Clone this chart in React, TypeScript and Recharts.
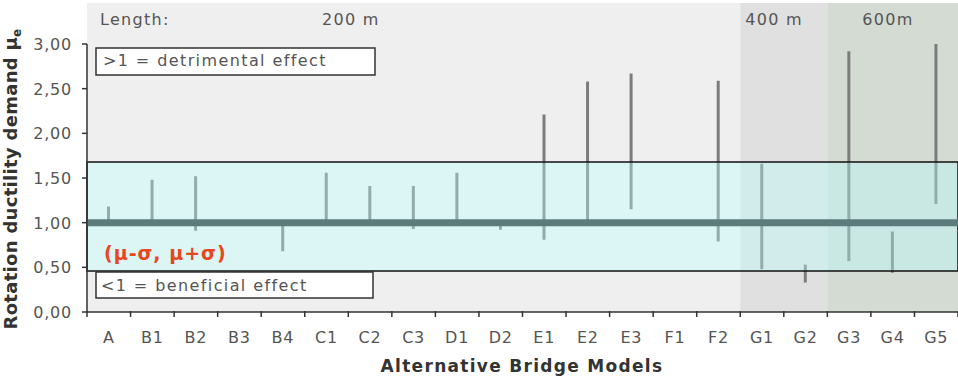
import { Bar, BarChart, ReferenceArea, ReferenceLine, XAxis, YAxis } from 'recharts'

const FONT = '"DejaVu Sans", Verdana, sans-serif'

// bridge models on the x axis
const models = ['A', 'B1', 'B2', 'B3', 'B4', 'C1', 'C2', 'C3', 'D1', 'D2', 'E1', 'E2', 'E3', 'F1', 'F2', 'G1', 'G2', 'G3', 'G4', 'G5']

// spread of the rotation ductility demand per model (null = no spread drawn)
const demandLow = [1.0, 1.0, 0.91, null, 0.68, 1.0, 1.0, 0.93, 1.0, 0.92, 0.81, 1.0, 1.15, null, 0.79, 0.48, 0.33, 0.57, 0.44, 1.21]
const demandHigh = [1.18, 1.48, 1.52, null, 1.0, 1.56, 1.41, 1.41, 1.56, 1.0, 2.21, 2.58, 2.67, null, 2.59, 1.66, 0.53, 2.92, 0.9, 3.0]

const yTicks = [0, 0.5, 1, 1.5, 2, 2.5, 3]

// (mu - sigma, mu + sigma) band and the neutral reference value
const bandLow = 0.46
const bandHigh = 1.68
const neutral = 1

// bridge length groups
const lengthLabels = ['200 m', '400 m', '600m']
const lengthFrom = ['A', 'G1', 'G3']
const lengthTo = ['F2', 'G2', 'G5']
const regionTop = 3.46

const regionFills = ['#efefef', '#e0e0e0', '#d3dbd3']
const regionLabelDx = [235, 5, 35]

const data = models.map((model, i) => ({
  model,
  range: demandLow[i] == null ? null : [demandLow[i], demandHigh[i]],
}))

const fmt = (v: number) => v.toFixed(2).replace('.', ',')

function ModelTick(props: any) {
  const { x, y, payload } = props
  const half = payload.offset ?? 21.8
  const last = payload.value === models[models.length - 1]
  return (
    <g>
      <line x1={x - half} x2={x - half} y1={y - 1} y2={y + 5} stroke='#333' strokeWidth={1.5} />
      {last && <line x1={x + half} x2={x + half} y1={y - 1} y2={y + 5} stroke='#333' strokeWidth={1.5} />}
      <text x={x} y={y + 31} textAnchor='middle' fill='#555' fontSize={16} fontFamily={FONT} letterSpacing={0.8}>
        {payload.value}
      </text>
    </g>
  )
}

function DemandTick(props: any) {
  const { x, y, payload } = props
  return (
    <text x={x} y={y + 6} textAnchor='end' fill='#555' fontSize={16} fontFamily={FONT} letterSpacing={0.8}>
      {fmt(payload.value)}
    </text>
  )
}

function regionLabel(i: number) {
  return ({ viewBox }: any) => (
    <g>
      {i === 0 && (
        <text x={viewBox.x + 13} y={viewBox.y + 22} fill='#555' fontSize={16} fontFamily={FONT} letterSpacing={1.3}>
          Length:
        </text>
      )}
      <text x={viewBox.x + regionLabelDx[i]} y={viewBox.y + 22} fill='#555' fontSize={16} fontFamily={FONT} letterSpacing={1.3}>
        {lengthLabels[i]}
      </text>
    </g>
  )
}

const bandLabel = ({ viewBox }: any) => (
  <text x={viewBox.x + 17} y={viewBox.y + viewBox.height - 11} fill='#e8461e' fontSize={19} fontWeight='bold' fontFamily={FONT} letterSpacing={1}>
    (μ-σ, μ+σ)
  </text>
)

export default function App() {
  return (
    <div style={{ position: 'absolute', left: 0, top: 0, width: 958, height: 378, background: '#fff' }}>
      <BarChart width={958} height={378} data={data} margin={{ top: 44, right: 0, bottom: 0, left: 0 }}>
        {lengthLabels.map((_, i) => (
          <ReferenceArea
            key={lengthLabels[i]}
            x1={lengthFrom[i]}
            x2={lengthTo[i]}
            y1={0}
            y2={regionTop}
            fill={regionFills[i]}
            fillOpacity={1}
            ifOverflow='visible'
            label={regionLabel(i)}
            zIndex={-200}
          />
        ))}
        <XAxis
          dataKey='model'
          height={66}
          interval={0}
          tickSize={0}
          tickMargin={0}
          tickLine={false}
          axisLine={{ stroke: '#333', strokeWidth: 1.5 }}
          tick={(p: any) => <ModelTick {...p} />}
        />
        <YAxis
          width={87}
          domain={[0, 3]}
          ticks={yTicks}
          allowDataOverflow
          tickSize={5}
          tickMargin={10}
          tickLine={{ stroke: '#333', strokeWidth: 1.5 }}
          axisLine={{ stroke: '#333', strokeWidth: 1.5 }}
          tick={(p: any) => <DemandTick {...p} />}
        />
        <Bar dataKey='range' barSize={3} fill='#7c7c7c' isAnimationActive={false} zIndex={300} />
        <ReferenceArea
          y1={bandLow}
          y2={bandHigh}
          fill='#baffff'
          fillOpacity={0.36}
          stroke='#111'
          strokeWidth={1.5}
          ifOverflow='visible'
          label={bandLabel}
          zIndex={350}
        />
        <ReferenceLine y={neutral} stroke='#5c7b7b' strokeWidth={7} zIndex={360} />
      </BarChart>

      <svg width={958} height={378} style={{ position: 'absolute', left: 0, top: 0, pointerEvents: 'none' }}>
        <rect x={96} y={48} width={279} height={27} fill='#fff' stroke='#333' strokeWidth={1.5} />
        <text x={103} y={66} fill='#555' fontSize={16} fontFamily={FONT} letterSpacing={1.4}>
          &gt;1 = detrimental effect
        </text>
        <rect x={96} y={272} width={277} height={26} fill='#fff' stroke='#333' strokeWidth={1.5} />
        <text x={101} y={291} fill='#555' fontSize={16} fontFamily={FONT} letterSpacing={1.4}>
          &lt;1 = beneficial effect
        </text>
        <text
          x={522}
          y={372}
          textAnchor='middle'
          fill='#333'
          fontSize={17}
          fontWeight='bold'
          fontFamily={FONT}
          letterSpacing={1.3}
        >
          Alternative Bridge Models
        </text>
        <text
          transform='translate(17,179) rotate(-90)'
          textAnchor='middle'
          fill='#333'
          fontSize={18}
          fontWeight='bold'
          fontFamily={FONT}
          letterSpacing={0.3}
        >
          Rotation ductility demand μ<tspan fontSize={12} dy={4}>e</tspan>
        </text>
      </svg>
    </div>
  )
}
